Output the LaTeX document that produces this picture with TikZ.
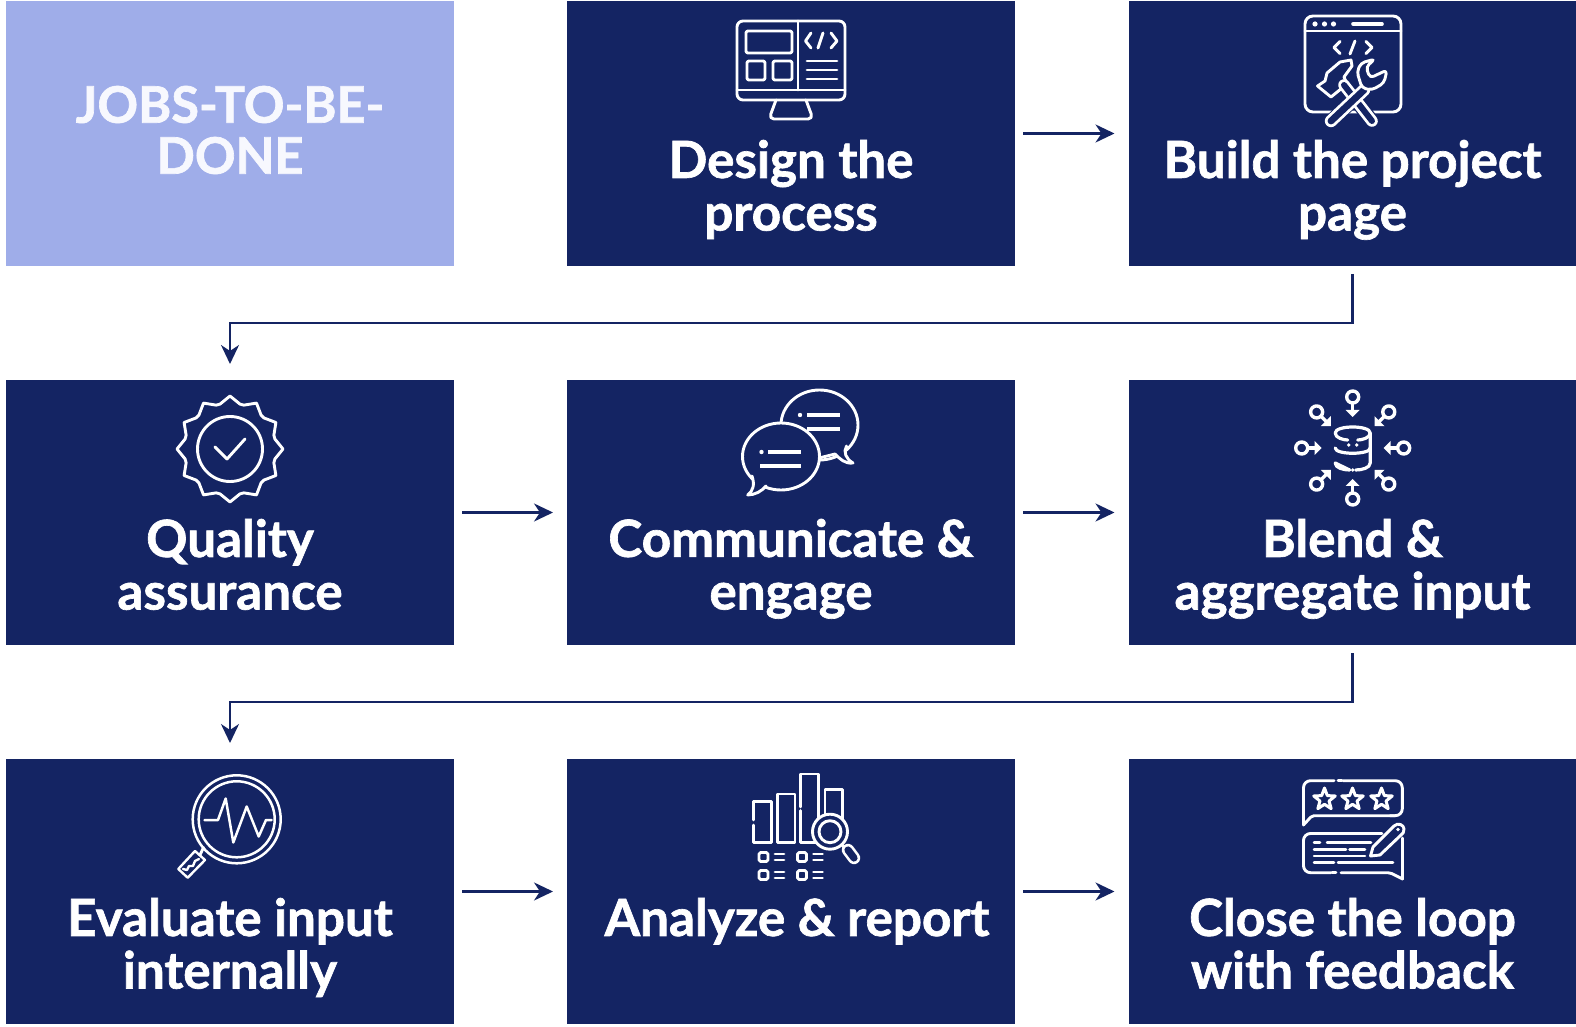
\documentclass[tikz,border=0pt]{standalone}
\usepackage{fontspec}
\setmainfont{Lato}[BoldFeatures={FakeBold=1.3}]
\usetikzlibrary{arrows.meta,calc}
\definecolor{dk}{HTML}{142463}
\definecolor{lt}{HTML}{9FADE9}
\definecolor{ltx}{HTML}{F7F8FE}
\tikzset{
 boxn/.style={rectangle,fill=dk,minimum width=224pt,minimum height=132.5pt,inner sep=0pt,outer sep=0pt},
 boxl/.style={boxn,fill=lt},
 lab/.style={text=white,anchor=north,align=center,inner sep=0pt,font=\fontsize{25.6}{26.3}\selectfont\bfseries,execute at begin node={\lineskiplimit=-50pt\relax}},
 conn/.style={draw=dk,line width=1.25pt,-{Stealth[length=9.5pt,width=9pt,inset=3pt]}},
 ic/.style={draw=white,line width=1.45pt,line cap=round,line join=round},
 icf/.style={ic,fill=dk},
 dot/.style={fill=white,draw=none},
}
\begin{document}
\begin{tikzpicture}[x=0.5pt,y=-0.5pt]
\useasboundingbox (0,0) rectangle (1576,1027);
\fill[white] (0,0) rectangle (1576,1027);
% boxes
\node[boxl] (jobs) at (230,133.5) {};
\node[boxn] (design) at (791,133.5) {};
\node[boxn] (build) at (1352.5,133.5) {};
\node[boxn] (quality) at (230,512.5) {};
\node[boxn] (comm) at (791,512.5) {};
\node[boxn] (blend) at (1352.5,512.5) {};
\node[boxn] (eval) at (230,891.5) {};
\node[boxn] (analyze) at (791,891.5) {};
\node[boxn] (close) at (1352.5,891.5) {};
% labels
\node[lab,text=ltx,font=\fontsize{25.2}{25.5}\selectfont\bfseries] (tjobs) at (230,85.5) {\strut JOBS-TO-BE-\\DONE};
\node[lab] (tdesign) at (791,139.5) {\strut Design the\\process};
\node[lab] (tbuild) at (1352.5,139.5) {\strut Build the project\\page};
\node[lab] (tquality) at (230,518.5) {\strut Quality\\assurance};
\node[lab] (tcomm) at (791,518.5) {\strut Communicate \&\\engage};
\node[lab] (tblend) at (1352.5,518.5) {\strut Blend \&\\aggregate input};
\node[lab] (teval) at (230,897.5) {\strut Evaluate input\\internally};
\node[lab] (tanalyze) at (797,897.5) {\strut Analyze \& report};
\node[lab] (tclose) at (1352.5,897.5) {\strut Close the loop\\with feedback};
% connectors
\draw[conn] ([xshift=4pt]design.east) -- ([xshift=-7pt]build.west);
\draw[conn] ([yshift=-4pt]build.south) -- ++(0,49) -| ([yshift=8pt]quality.north);
\draw[conn] ([xshift=4pt]quality.east) -- ([xshift=-7pt]comm.west);
\draw[conn] ([xshift=4pt]comm.east) -- ([xshift=-7pt]blend.west);
\draw[conn] ([yshift=-4pt]blend.south) -- ++(0,49) -| ([yshift=8pt]eval.north);
\draw[conn] ([xshift=4pt]eval.east) -- ([xshift=-7pt]analyze.west);
\draw[conn] ([xshift=4pt]analyze.east) -- ([xshift=-7pt]close.west);
% ---- design icon
\draw[ic,rounded corners=3pt] (737,21) rectangle (845,100);
\draw[ic] (737,90) -- (845,90) (798,21) -- (798,90);
\draw[ic,rounded corners=1pt] (746,31) rectangle (792,53) (747,61) rectangle (765,80) (773,61) rectangle (792,80);
\draw[ic] (811,33) -- (805.5,41) -- (811,48) (818,48) -- (823,33) (831,33) -- (837,41) -- (831,48);
\draw[ic] (807,61) -- (837,61) (807,70) -- (837,70) (807,79) -- (837,79);
\draw[ic,rounded corners=2.5pt] (776,100) -- (769,119) -- (813,119) -- (806,100);
% ---- build icon
\draw[ic,rounded corners=4pt] (1305,16) rectangle (1401,112);
\draw[ic] (1305,31) -- (1401,31);
\foreach \x in {1315,1324.5,1333.5}{\fill[dot] (\x,24) circle (2.6);}
\draw[ic,line width=1.8pt] (1353,24) -- (1382,24);
\draw[ic] (1340,41.5) -- (1334,47.5) -- (1340,53.5) (1350,54) -- (1355,41) (1366,41.5) -- (1372,47.5) -- (1366,53.5);
\draw[dk,line width=7pt,line cap=round] (1344,85) -- (1372,121);
\draw[dk,line width=7pt,line cap=round] (1364,90) -- (1331,121);
\draw[icf] (1317.5,86) -- (1325,81) -- (1327,73) -- (1340,62) -- (1351,60) -- (1352,66) -- (1344,77) -- (1347,84) -- (1331,97) -- cycle;
\draw[white,line width=5.8pt,line cap=round] (1344,85) -- (1372,121);
\draw[dk,line width=3pt,line cap=round] (1344,85) -- (1372,121);
\draw[white,line width=6.2pt,line cap=round] (1364,90) -- (1331,121);
\draw[dk,line width=3.4pt,line cap=round] (1364,90) -- (1331,121);
\draw[icf,rounded corners=2pt] (1362,88) -- (1357,72) -- (1361,63) -- (1375,59) -- (1366,67) -- (1370,78) -- (1387,70) -- (1384,83) -- (1372,90) -- cycle;
% ---- quality icon
\begin{scope}[shift={(230,449)}]
\draw[ic] (0:53) \foreach \a in {30,60,...,330}{ -- ({\a-17.5}:46) -- ({\a-12.5}:46) -- (\a:53)} -- (-17.5:46) -- (-12.5:46) -- cycle;
\draw[ic] (0,0) circle (32.5);
\draw[ic] (-15,-2) -- (-3,10) -- (15,-10);
\end{scope}
% ---- chat icon
\draw[ic] (819.5,425) ellipse [x radius=38.5,y radius=35];
\draw[icf] (846.5,446) .. controls (843,452) and (846,459) .. (853,463) .. controls (845,464) and (840,459) .. (835,454) -- (815,459);
\fill[dot] (800,415) circle (2.2);
\draw[ic,line width=2.2pt,line cap=butt] (807,415) -- (840,415);
\draw[ic,line width=2.2pt,line cap=butt] (807,429) -- (840,429);
\draw[icf] (781,456.5) ellipse [x radius=38.5,y radius=33.5];
\draw[icf] (752,476) .. controls (755,485) and (753,491) .. (747.7,495) .. controls (755,495) and (762,491) .. (766,486);
\fill[dot] (761.5,452) circle (2.2);
\draw[ic,line width=2.2pt,line cap=butt] (768,452) -- (801,452) (760,466) -- (801,466);
% ---- blend icon
\begin{scope}[shift={(1352.7,448)}]
\draw[ic,line width=1.6pt] (-17.5,-15) .. controls (-17.5,-23) and (17.5,-23) .. (17.5,-15) -- (17.5,15) .. controls (17.5,20) and (9,22) .. (3,22) (-3,22) .. controls (-9,22) and (-17.5,20) .. (-17.5,15) -- cycle;
\draw[ic,line width=1.6pt] (-17.5,-15) .. controls (-17.5,-10) and (-9,-8) .. (-5,-8) (5,-8) .. controls (9,-8) and (17.5,-10) .. (17.5,-15);
\draw[ic,line width=1.6pt] (-17.5,0) .. controls (-17.5,7) and (17.5,7) .. (17.5,0);
\fill[dot] (-4,-3) circle (1.8) (4,-3) circle (1.8) (0,22) circle (1.8);
\foreach \a in {0,45,...,315}{
 \begin{scope}[rotate=\a]
 \draw[ic,line width=1.7pt] (51,0) circle (6);
 \draw[ic,line width=1.7pt,line cap=butt] (45,0) -- (37,0);
 \fill[dot] (31,0) -- (38,7) -- (38,-7) -- cycle;
 \end{scope}
}
\end{scope}
% ---- evaluate icon
\draw[icf] (203.5,847.5) -- (200,855);
\draw[ic,line width=1.2pt] (195,851) -- (205,860) -- (187.7,877.7) -- (178.3,869) -- cycle;
\draw[ic,line width=1.2pt] (183,869) -- (187,870) -- (189,866) -- (193,866) -- (195,861) -- (199,859);
\draw[ic,line width=1.25pt] (236.7,819.3) circle (44) (236.7,819.3) circle (38);
\draw[ic,line width=1.25pt] (204.5,820) -- (218,820) -- (225.7,798.5) -- (233.3,842.5) -- (246.7,806.5) -- (258.7,836.5) -- (266,820) -- (271.7,820);
% ---- analyze icon
\draw[ic] (753.5,820) -- (753.5,801.7) -- (771.7,801.7) -- (771.7,842.3) -- (753.5,842.3) -- (753.5,825);
\draw[ic] (777.5,794) rectangle (795,842.3);
\draw[ic] (800.7,807) -- (800.7,774) -- (818.3,774) -- (818.3,842.3) -- (800.7,842.3) -- (800.7,810.5);
\draw[ic] (825,830) -- (825,789.5) -- (842.7,789.5) -- (842.7,830);
\draw[ic] (842,845) -- (847,851);
\draw[white,line width=6.2pt,line cap=round] (848,850) -- (854,858);
\draw[dk,line width=3.6pt,line cap=round] (848,850) -- (854,858);
\draw[icf] (830,831.7) circle (17.5);
\draw[ic] (830,831.7) circle (11);
\foreach \x in {759,797.5}{
 \foreach \y in {852.5,870.5}{
  \draw[ic,rounded corners=0.8pt] (\x,\y) rectangle ++(9,9);
  \draw[ic] (\x+16,\y+1.5) -- (\x+25,\y+1.5) (\x+16,\y+7.5) -- (\x+25,\y+7.5);
 }
}
% ---- close icon
\draw[ic,rounded corners=3.5pt] (1334,780.7) -- (1303.5,780.7) -- (1303.5,825);
\draw[ic,rounded corners=1pt] (1303.5,825) -- (1312,815.7) -- (1395,815.7);
\draw[ic,rounded corners=3.5pt] (1390,815.7) -- (1402.3,815.7) -- (1402.3,780.7) -- (1343,780.7);
\draw[ic] (1338,780.7) -- (1342,780.7);
\foreach \x in {1324.5,1352.5,1381.5}{
 \draw[ic,line width=1.5pt] (\x,788) \foreach \k in {1,...,4}{ -- ({\x+4.8*cos(-54+72*(\k-1))},{799.5+4.8*sin(-54+72*(\k-1))}) -- ({\x+11.3*cos(-90+72*\k)},{799.5+11.3*sin(-90+72*\k)})} -- ({\x+4.8*cos(-54+288)},{799.5+4.8*sin(-54+288)}) -- cycle;
}
\draw[ic,rounded corners=3.5pt] (1382,833.5) -- (1303.5,833.5) -- (1303.5,872.7) -- (1331,872.7);
\draw[ic] (1332,872.7) -- (1336,872.7);
\draw[ic,rounded corners=1pt] (1341,872.7) -- (1390,872.7) -- (1402.5,879);
\draw[ic,rounded corners=3pt] (1402.5,879) -- (1402.5,838);
\draw[ic,line width=1.25pt] (1314,842.5) -- (1320,842.5) (1327,842.5) -- (1371,842.5);
\draw[ic,line width=1.25pt] (1314,849.5) -- (1346,849.5) (1349.5,849.5) -- (1365,849.5);
\draw[ic,line width=1.25pt] (1314,856) -- (1365,856);
\draw[ic,line width=1.25pt] (1314,862.7) -- (1334,862.7) (1338,862.7) -- (1393,862.7);
\draw[icf] (1370.5,856) -- (1373,847) -- (1394,826) .. controls (1398,822) and (1404,825) .. (1404,829) .. controls (1404,832) and (1403,834) .. (1401,835) -- (1380,855) -- cycle;
\fill[dot] (1398,829.5) circle (1.8);
\end{tikzpicture}
\end{document}
